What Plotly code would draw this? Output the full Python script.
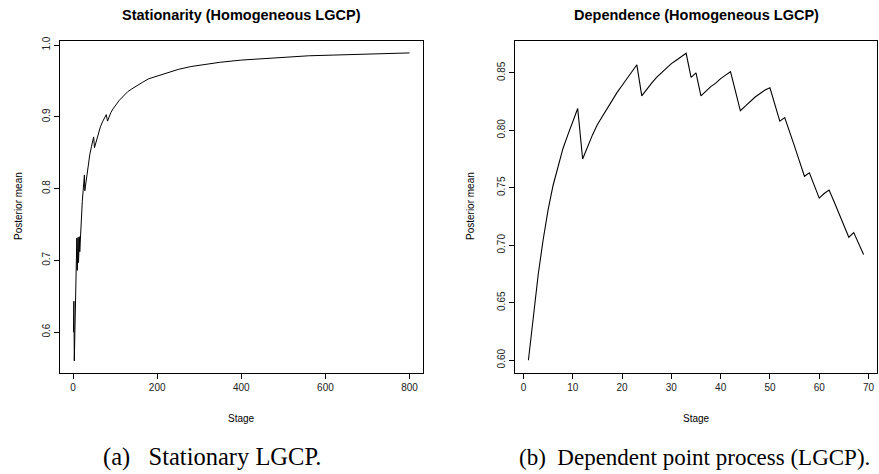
import plotly.graph_objects as go

# Left panel: stationary LGCP, posterior mean by stage
stat_stage = [1, 2, 3, 4, 5, 6, 7, 8, 9, 10, 11, 12, 13, 14, 15, 16, 17, 18, 20, 22,
              24, 26, 27, 28, 30, 33, 36, 40, 44, 48, 49, 51, 55, 60, 65, 70, 75, 79,
              82, 85, 90, 95, 100, 110, 120, 130, 140, 150, 165, 180, 200, 225, 250,
              280, 310, 350, 400, 450, 500, 560, 620, 680, 740, 800]
stat_mean = [0.600, 0.643, 0.560, 0.598, 0.628, 0.655, 0.677, 0.695, 0.731, 0.686,
             0.706, 0.732, 0.697, 0.716, 0.733, 0.712, 0.728, 0.745, 0.765, 0.782,
             0.797, 0.810, 0.819, 0.797, 0.806, 0.820, 0.833, 0.848, 0.859, 0.869,
             0.872, 0.857, 0.866, 0.877, 0.886, 0.893, 0.899, 0.903,
             0.894, 0.899, 0.906, 0.911, 0.915, 0.923, 0.929, 0.935, 0.939, 0.943,
             0.948, 0.953, 0.957, 0.962, 0.966, 0.970, 0.973, 0.976, 0.979, 0.981,
             0.983, 0.985, 0.986, 0.987, 0.988, 0.989]

# Right panel: dependent point process, stages 1..69
dep_stage = list(range(1, 70))
dep_mean = [0.600, 0.640, 0.675, 0.705, 0.731, 0.752, 0.769, 0.784, 0.796, 0.808,
            0.819, 0.775, 0.786, 0.796, 0.805, 0.812, 0.820, 0.827, 0.833, 0.839,
            0.845, 0.851, 0.857, 0.830, 0.836, 0.841, 0.846, 0.850, 0.854, 0.858,
            0.861, 0.864, 0.867, 0.846, 0.850, 0.830, 0.834, 0.838, 0.841, 0.845,
            0.848, 0.851, 0.834, 0.817, 0.821, 0.825, 0.829, 0.832, 0.835, 0.837,
            0.822, 0.808, 0.811, 0.799, 0.786, 0.773, 0.760, 0.763, 0.752, 0.741,
            0.745, 0.748, 0.738, 0.728, 0.717, 0.707, 0.711, 0.701, 0.692]

W, H = 879, 474

def px(x):
    return x / W

def py(y):
    return 1 - y / H

fig = go.Figure()
fig.add_trace(go.Scatter(x=stat_stage, y=stat_mean, mode="lines",
                         line=dict(color="black", width=1), xaxis="x", yaxis="y"))
fig.add_trace(go.Scatter(x=dep_stage, y=dep_mean, mode="lines",
                         line=dict(color="black", width=1.1), xaxis="x2", yaxis="y2"))

axis_style = dict(showline=True, mirror=True, linecolor="black", linewidth=1,
                  ticks="outside", ticklen=5, tickcolor="black", tickwidth=1,
                  showgrid=False, zeroline=False, automargin=False,
                  tickfont=dict(family="Liberation Sans, Arial", size=10, color="#222"))

fig.update_layout(
    width=W, height=H,
    margin=dict(l=0, r=0, t=0, b=0, autoexpand=False),
    paper_bgcolor="white", plot_bgcolor="white",
    showlegend=False,
    xaxis=dict(domain=[px(60), px(423)], range=[-31, 832], tickvals=[0, 200, 400, 600, 800],
               anchor="y", **axis_style),
    yaxis=dict(domain=[py(372.5), py(41)], range=[0.5438, 1.0056],
               tickvals=[0.6, 0.7, 0.8, 0.9, 1.0], tickformat=".1f", tickangle=-90,
               anchor="x", **axis_style),
    xaxis2=dict(domain=[px(515), px(877)], range=[-1.72, 71.72], dtick=10, tick0=0,
                anchor="y2", **axis_style),
    yaxis2=dict(domain=[py(372.5), py(41)], range=[0.5893, 0.8777],
                tickvals=[0.60, 0.65, 0.70, 0.75, 0.80, 0.85], tickformat=".2f",
                tickangle=-90, anchor="x2", **axis_style),
)

sans = "Liberation Sans, Arial"
serif = "Liberation Serif, Times New Roman"
notes = [
    (241.5, 15, "<b>Stationarity (Homogeneous LGCP)</b>", sans, 14.5, 0),
    (696, 15, "<b>Dependence (Homogeneous LGCP)</b>", sans, 14.5, 0),
    (241.5, 418, "Stage", sans, 10, 0),
    (696, 418, "Stage", sans, 10, 0),
    (18, 206, "Posterior mean", sans, 10, -90),
    (470, 206, "Posterior mean", sans, 10, -90),
    (211.5, 457, "(a)&nbsp;&nbsp;&nbsp;Stationary LGCP.", serif, 24.5, 0),
    (694, 457, "(b)&nbsp;&nbsp;Dependent point process (LGCP).", serif, 23, 0),
]
for x, y, text, fam, size, ang in notes:
    fig.add_annotation(x=px(x), y=py(y), xref="paper", yref="paper", text=text,
                       showarrow=False, textangle=ang, xanchor="center", yanchor="middle",
                       font=dict(family=fam, size=size, color="black"))

# drop the default page margin so the figure sits at the window's corner
fig.write_html("out.html", config={"displayModeBar": False},
               post_script="document.body.style.margin='0';document.body.style.overflow='hidden';")
